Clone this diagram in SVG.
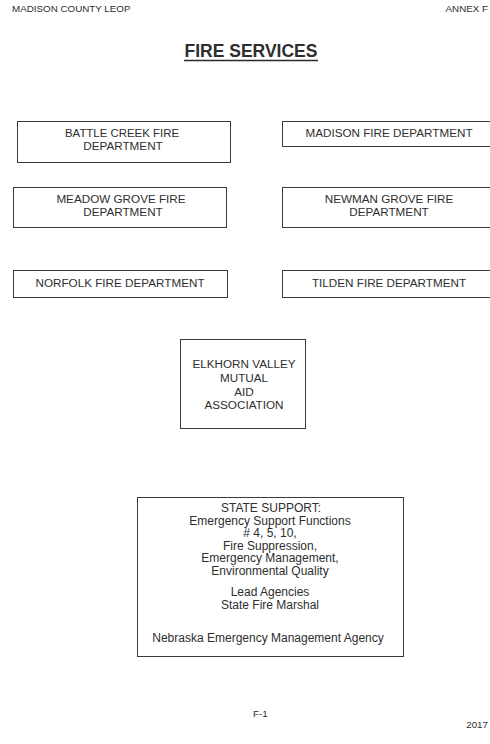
<svg xmlns="http://www.w3.org/2000/svg" width="490" height="744" viewBox="0 0 490 744">
<style>
text{font-family:"Liberation Sans",Arial,sans-serif;fill:#2e2e2e}
.hdr{font-size:9.8px}
.t{font-size:11.7px;text-anchor:middle}
.s{font-size:12px;text-anchor:middle}
rect.n{fill:#fff;stroke:#3a3a3a;stroke-width:1}
</style>
<rect width="490" height="744" fill="#fff"/>
<text class="hdr" x="12" y="12">MADISON COUNTY LEOP</text>
<text class="hdr" x="488" y="12" text-anchor="end">ANNEX F</text>
<g id="title">
<text x="251" y="57" font-size="17.5" font-weight="bold" text-anchor="middle">FIRE SERVICES</text>
<line x1="184" y1="60.5" x2="318" y2="60.5" stroke="#2a2a2a" stroke-width="1.4"/>
</g>
<g id="battle-creek">
<rect class="n" x="17.5" y="121.5" width="213" height="41"/>
<text class="t" x="122" y="137" textLength="114" lengthAdjust="spacingAndGlyphs">BATTLE CREEK FIRE</text>
<text class="t" x="123" y="149.5">DEPARTMENT</text>
</g>
<g id="madison">
<rect class="n" x="282.5" y="121.5" width="210" height="25"/>
<text class="t" x="389" y="137">MADISON FIRE DEPARTMENT</text>
</g>
<g id="meadow-grove">
<rect class="n" x="13.5" y="187.5" width="213" height="40"/>
<text class="t" x="121" y="203">MEADOW GROVE FIRE</text>
<text class="t" x="123" y="216">DEPARTMENT</text>
</g>
<g id="newman-grove">
<rect class="n" x="282.5" y="187.5" width="210" height="40"/>
<text class="t" x="389" y="203">NEWMAN GROVE FIRE</text>
<text class="t" x="389" y="216">DEPARTMENT</text>
</g>
<g id="norfolk">
<rect class="n" x="13.5" y="270.5" width="214" height="27"/>
<text class="t" x="120" y="287">NORFOLK FIRE DEPARTMENT</text>
</g>
<g id="tilden">
<rect class="n" x="282.5" y="270.5" width="210" height="27"/>
<text class="t" x="389" y="287">TILDEN FIRE DEPARTMENT</text>
</g>
<g id="elkhorn">
<rect class="n" x="180.5" y="339.5" width="125" height="89"/>
<text class="t" x="244" y="368" font-size="12">ELKHORN VALLEY</text>
<text class="t" x="244" y="382" font-size="12">MUTUAL</text>
<text class="t" x="244" y="395.5" font-size="12">AID</text>
<text class="t" x="244" y="409" font-size="12">ASSOCIATION</text>
</g>
<g id="state-support">
<rect class="n" x="137.5" y="497.5" width="266" height="159"/>
<text class="s" x="271" y="512">STATE SUPPORT:</text>
<text class="s" x="270" y="524.5">Emergency Support Functions</text>
<text class="s" x="270" y="537"># 4, 5, 10,</text>
<text class="s" x="270" y="549.5">Fire Suppression,</text>
<text class="s" x="270" y="562">Emergency Management,</text>
<text class="s" x="270" y="574.5">Environmental Quality</text>
<text class="s" x="270" y="596">Lead Agencies</text>
<text class="s" x="270" y="608.5">State Fire Marshal</text>
<text class="s" x="268" y="642">Nebraska Emergency Management Agency</text>
</g>
<g id="connectors"></g>
<text class="hdr" x="253" y="717">F-1</text>
<text class="hdr" x="488" y="728" text-anchor="end">2017</text>
</svg>
